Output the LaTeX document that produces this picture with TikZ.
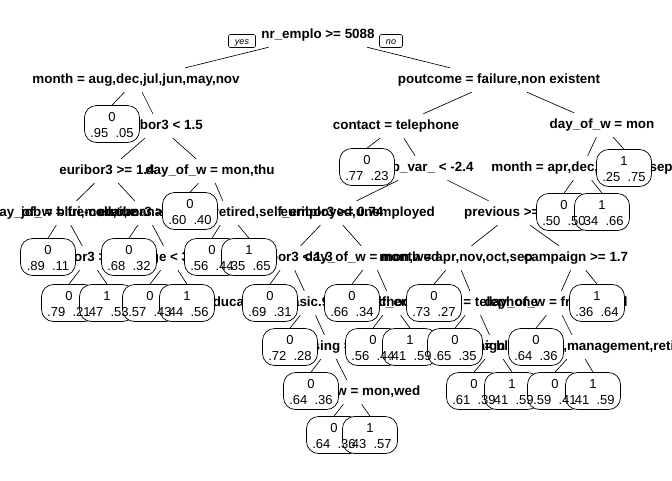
\documentclass[tikz,border=0pt]{standalone}
\usepackage{fontspec}
\setmainfont{Liberation Sans}
\usetikzlibrary{calc}
\pgfdeclarelayer{bg}
\pgfsetlayers{bg,main}
\tikzset{
  split/.style={font=\fontsize{13.4}{15}\selectfont\bfseries, inner xsep=0pt, inner ysep=0pt, text height=9.6pt, text depth=2.8pt, minimum height=24pt},
  leafbox/.style={draw, fill=white, rounded corners=12pt, minimum width=55pt, minimum height=37pt, inner sep=0pt, line width=0.7pt},
  leaftxt/.style={font=\fontsize{13}{15.5}\selectfont, align=center, inner sep=0pt},
  br/.style={line width=0.65pt},
  yn/.style={draw, fill=white, rounded corners=2pt, font=\fontsize{9}{10}\selectfont\itshape, inner xsep=6.5pt, inner ysep=0pt, minimum height=13pt, text height=6.5pt, text depth=0.5pt, line width=0.6pt}
}
\begin{document}
\begin{tikzpicture}[x=1pt,y=-1pt]
\begin{pgfonlayer}{bg}
\fill[white] (0,0) rectangle (672,480);
\end{pgfonlayer}
\useasboundingbox (0,0) rectangle (672,480);

% split labels
\node[split] (S0) at (318,35) {nr\_emplo >= 5088};
\node[split] (S1L) at (136,80) {month = aug,dec,jul,jun,may,nov};
\node[split] (S1R) at (499,80) {poutcome = failure,non existent};
\node[split] (S2b) at (159,126) {euribor3 < 1.5};
\node[split] (S2c) at (396,126) {contact = telephone};
\node[split] (S2d) at (602,125) {day\_of\_w = mon};
\node[split] (S3a) at (107,171) {euribor3 >= 1.4};
\node[split] (S3b) at (210,171) {day\_of\_w = mon,thu};
\node[split] (S3d) at (423,168) {emp\_var\_ < -2.4};
\node[split] (S3e) at (582,168) {month = apr,dec,mar,oct,sep};
\node[split] (S4a) at (64,213) {day\_of\_w = fri,mon,tue};
\node[split] (S4b) at (146,213) {euribor3 >= 1.3};
\node[split] (S4d) at (228,213) {job = blue-collar,management,retired,self\_employed,unemployed};
\node[split] (S4e) at (332,213) {euribor3 >= 0.74};
\node[split] (S4f) at (513,213) {previous >= 0.5};
\node[split] (S5b) at (89,258) {euribor3 >= 1.2};
\node[split] (S5d) at (170,258) {age < 35};
\node[split] (S5g) at (289,258) {euribor3 < 1.3};
\node[split] (S5h) at (372,258) {day\_of\_w = mon,wed};
\node[split] (S5i) at (456,258) {month = apr,nov,oct,sep};
\node[split] (S5j) at (576,258) {campaign >= 1.7};
\node[split] (S6f) at (310,303) {education = basic.9y,high.school};
\node[split] (S6h) at (392,303) {job = self\_employed};
\node[split] (S6j) at (475,303) {contact = telephone};
\node[split] (S6k) at (556,303) {day\_of\_w = fri,tue,wed};
\node[split] (S7b) at (330,347) {housing = no};
\node[split] (S7f) at (495,347) {campaign >= 2.5};
\node[split] (S7h) at (578,347) {job = blue-collar,management,retired};
\node[split] (S8b) at (353,392) {day\_of\_w = mon,wed};

\node[yn] (yesbox) at (242,41) {yes};
\node[yn] (nobox) at (391,41) {no};

% leaf boxes
\foreach \n/\x/\y in {L2a/112/124, L3c/367/167, L3f/624/168, L4c/190/211, L4g/564/212, L4h/602/212,
  L5a/48/257, L5c/129/257, L5e/212/257, L5f/249/257,
  L6a/69/303, L6b/107/303, L6c/150/303, L6d/187/303, L6e/270/303, L6g/352/303, L6i/434/303, L6l/597/303,
  L7a/290/347, L7c/373/347, L7d/410/347, L7e/455/347, L7g/536/347,
  L8a/311/391, L8c/474/391, L8d/512/391, L8e/555/391, L8f/593/391,
  L9a/334/435, L9b/370/435}
  \node[leafbox] (\n) at (\x,\y) {};

% leaf texts
\foreach \n/\x/\y/\lc/\pa/\pb in {L2a/112/124/0/.95/.05, L3c/367/167/0/.77/.23, L3f/624/168/1/.25/.75,
  L4c/190/211/0/.60/.40, L4g/564/212/0/.50/.50, L4h/602/212/1/.34/.66,
  L5a/48/257/0/.89/.11, L5c/129/257/0/.68/.32, L5e/212/257/0/.56/.44, L5f/249/257/1/.35/.65,
  L6a/69/303/0/.79/.21, L6b/107/303/1/.47/.53, L6c/150/303/0/.57/.43, L6d/187/303/1/.44/.56,
  L6e/270/303/0/.69/.31, L6g/352/303/0/.66/.34, L6i/434/303/0/.73/.27, L6l/597/303/1/.36/.64,
  L7a/290/347/0/.72/.28, L7c/373/347/0/.56/.44, L7d/410/347/1/.41/.59, L7e/455/347/0/.65/.35, L7g/536/347/0/.64/.36,
  L8a/311/391/0/.64/.36, L8c/474/391/0/.61/.39, L8d/512/391/1/.41/.59, L8e/555/391/0/.59/.41, L8f/593/391/1/.41/.59,
  L9a/334/435/0/.64/.36, L9b/370/435/1/.43/.57}
  \node[leaftxt] (\n-txt) at (\x,\y+1) {\lc\\\pa~~\pb};

% branches
\begin{pgfonlayer}{bg}
\draw[br] (S0) -- (S1L);
\draw[br] (S0) -- (S1R);
\draw[br] (S1L) -- (L2a.north);
\draw[br] (S1L) -- (S2b);
\draw[br] (S1R) -- (S2c);
\draw[br] (S1R) -- (S2d);
\draw[br] (S2b) -- (S3a);
\draw[br] (S2b) -- (S3b);
\draw[br] (S2c) -- (L3c.north);
\draw[br] (S2c) -- (S3d);
\draw[br] (S2d) -- (S3e);
\draw[br] (S2d) -- (L3f.north);
\draw[br] (S3a) -- (S4a);
\draw[br] (S3a) -- (S4b);
\draw[br] (S3b) -- (L4c.north);
\draw[br] (S3b) -- (S4d);
\draw[br] (S3d) -- (S4e);
\draw[br] (S3d) -- (S4f);
\draw[br] (S3e) -- (L4g.north);
\draw[br] (S3e) -- (L4h.north);
\draw[br] (S4a) -- (L5a.north);
\draw[br] (S4a) -- (S5b);
\draw[br] (S4b) -- (L5c.north);
\draw[br] (S4b) -- (S5d);
\draw[br] (S4d) -- (L5e.north);
\draw[br] (S4d) -- (L5f.north);
\draw[br] (S4e) -- (S5g);
\draw[br] (S4e) -- (S5h);
\draw[br] (S4f) -- (S5i);
\draw[br] (S4f) -- (S5j);
\draw[br] (S5b) -- (L6a.north);
\draw[br] (S5b) -- (L6b.north);
\draw[br] (S5d) -- (L6c.north);
\draw[br] (S5d) -- (L6d.north);
\draw[br] (S5g) -- (L6e.north);
\draw[br] (S5g) -- (S6f);
\draw[br] (S5h) -- (L6g.north);
\draw[br] (S5h) -- (S6h);
\draw[br] (S5i) -- (L6i.north);
\draw[br] (S5i) -- (S6j);
\draw[br] (S5j) -- (S6k);
\draw[br] (S5j) -- (L6l.north);
\draw[br] (S6f) -- (L7a.north);
\draw[br] (S6f) -- (S7b);
\draw[br] (S6h) -- (L7c.north);
\draw[br] (S6h) -- (L7d.north);
\draw[br] (S6j) -- (L7e.north);
\draw[br] (S6j) -- (S7f);
\draw[br] (S6k) -- (L7g.north);
\draw[br] (S6k) -- (S7h);
\draw[br] (S7b) -- (L8a.north);
\draw[br] (S7b) -- (S8b);
\draw[br] (S7f) -- (L8c.north);
\draw[br] (S7f) -- (L8d.north);
\draw[br] (S7h) -- (L8e.north);
\draw[br] (S7h) -- (L8f.north);
\draw[br] (S8b) -- (L9a.north);
\draw[br] (S8b) -- (L9b.north);
\end{pgfonlayer}
\end{tikzpicture}
\end{document}
